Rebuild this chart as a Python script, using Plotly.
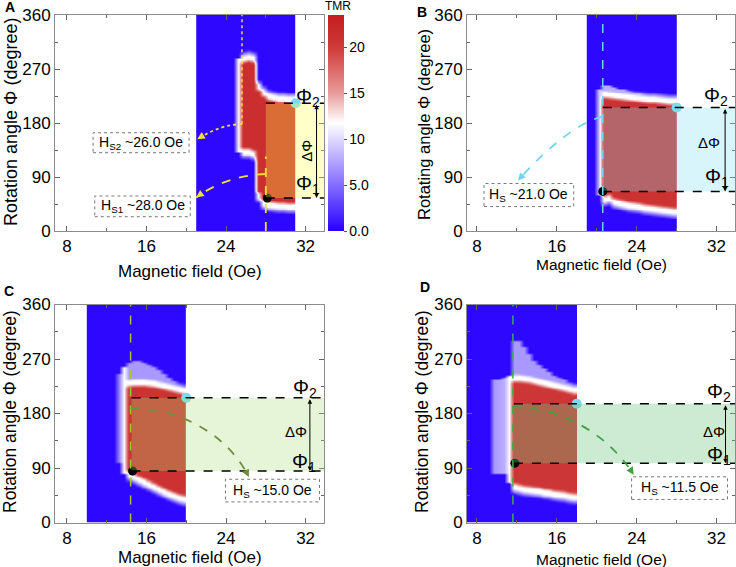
import plotly.graph_objects as go

# ---------------- data ----------------
ANGLE_CENTERS = [1.5 + 3 * k for k in range(120)]  # row centres of the angle grid (deg)

# Panel A : field columns (Oe), red-region lower/upper edge (deg), extra halo edges + level
A_field = [21.25, 21.75, 22.25, 22.75, 23.25, 23.75, 24.25, 24.75, 25.25, 25.75,
           26.25, 26.75, 27.25, 27.75, 28.25, 28.75, 29.25, 29.75, 30.25, 30.75]
A_lo = [None] * 9 + [135, 135, 132, 62, 50, 47, 46, 45, 45, 44, 44]
A_hi = [None] * 9 + [285, 287, 285, 238, 228, 222, 220, 218, 218, 217, 217]
A_halo_lo = [None] * 8 + [132] + [None] * 11
A_halo_hi = [None] * 8 + [288] + [None] * 11
A_halo_val = [0] * 8 + [11.5] + [0] * 11
A_peak = 21.5

# Panel B
B_field = [19.25, 19.75, 20.25, 20.75, 21.25, 21.75, 22.25, 22.75, 23.25, 23.75,
           24.25, 24.75, 25.25, 25.75, 26.25, 26.75, 27.25, 27.75]
B_lo = [None, None, None, 56, 58, 52, 50, 48, 46, 45, 44, 42, 41, 40, 39, 38, 37, 36]
B_hi = [None, None, None, 226, 225, 224, 223, 222, 221, 220, 219, 218, 217, 217, 216, 215, 214, 214]
B_halo_lo = [None, None, 60, 50, 52, 47, 45, 43, 41, 40, 39, 37, 36, 35, 34, 33, 32, 31]
B_halo_hi = [None, None, 238, 243, 242, 240, 238, 236, 234, 232, 230, 228, 226, 225, 224, 222, 221, 220]
B_halo_val = [0, 0, 9] + [8] * 15
B_peak = 21.0

# Panel C
C_field = [10.25, 10.75, 11.25, 11.75, 12.25, 12.75, 13.25, 13.75, 14.25, 14.75,
           15.25, 15.75, 16.25, 16.75, 17.25, 17.75, 18.25, 18.75, 19.25, 19.75]
C_lo = [None] * 8 + [82, 78, 74, 70, 66, 62, 58, 54, 50, 47, 44, 42]
C_hi = [None] * 8 + [228, 229, 229, 229, 228, 227, 225, 223, 221, 219, 217, 215]
C_halo_lo = [None] * 6 + [100, 82, 76, 72, 68, 64, 60, 56, 52, 48, 44, 41, 38, 36]
C_halo_hi = [None] * 6 + [245, 258, 264, 266, 266, 265, 262, 258, 252, 246, 240, 234, 228, 224]
C_halo_val = [0] * 6 + [6, 11.5] + [7] * 12
C_peak = 21.0

# Panel D
D_field = [7.25, 7.75, 8.25, 8.75, 9.25, 9.75, 10.25, 10.75, 11.25, 11.75, 12.25,
           12.75, 13.25, 13.75, 14.25, 14.75, 15.25, 15.75, 16.25, 16.75, 17.25, 17.75]
D_lo = [None] * 9 + [62, 60, 58, 57, 56, 55, 53, 52, 50, 49, 48, 46, 45]
D_hi = [None] * 9 + [236, 236, 235, 234, 232, 230, 228, 226, 224, 222, 220, 218, 216]
D_halo_lo = [None] * 5 + [82, 82, 80, 66, 54, 52, 50, 49, 48, 47, 45, 44, 42, 41, 40, 38, 37]
D_halo_hi = [None] * 5 + [236, 238, 240, 244, 300, 300, 290, 278, 268, 260, 254, 248, 244, 240, 236, 232, 228]
D_halo_val = [0] * 5 + [7, 7.5, 8, 11.5] + [7] * 13
D_peak = 20.5

BASE = 0.3
WHITE = 11.75

# Switching angles and fields
PHI1 = [55, 66, 85, 98]
PHI2 = [213, 206, 206, 196]
RECT_X0 = [28.0, 20.6, 14.5, 11.7]
DOT1_X = [28.15, 20.6, 14.6, 11.8]
DOT2_X = [31.0, 28.0, 20.0, 18.0]
HS_LINE_X = [28.0, 20.6, 14.4, 11.6]
A_HS2_LINE_X = 25.6
HS_LABELS = [["H<sub>S2</sub> ~26.0 Oe", "H<sub>S1</sub> ~28.0 Oe"],
             ["H<sub>S</sub> ~21.0 Oe"], ["H<sub>S</sub> ~15.0 Oe"], ["H<sub>S</sub> ~11.5 Oe"]]
PANEL_LETTERS = ["A", "B", "C", "D"]
Y_TITLES = ["Rotation angle Φ (degree)", "Rotating angle Φ (degree)",
            "Rotation angle Φ (degree)", "Rotation angle Φ (degree)"]
X_TITLE = "Magnetic field (Oe)"
X_TICKS = [8, 16, 24, 32]
Y_TICKS = [0, 90, 180, 270, 360]
CB_TICKS = [0, 5, 10, 15, 20]
CB_TEXT = ["0.0", "5.0", "10", "15", "20"]

# ---------------- layout geometry ----------------
FONT = "Arial, 'Liberation Sans', sans-serif"
W, H = 736, 567
XR = [[6.8, 33.85], [7.0, 33.85], [6.8, 33.85], [7.0, 33.85]]
XDOM = [[55 / W, 324 / W], [467 / W, 735 / W], [55 / W, 324 / W], [467 / W, 735 / W]]
YDOM = [[1 - 231 / H, 1 - 15 / H], [1 - 231 / H, 1 - 15 / H],
        [1 - 522.5 / H, 1 - 304.5 / H], [1 - 522.5 / H, 1 - 304.5 / H]]

COLORSCALE = [[0, "#2800ff"], [0.5, "#ffffff"], [0.64, "#e89a9a"],
              [0.85, "#cf3a3a"], [1, "#c41e1e"]]

PLATEAU_W = 6.0   # white band (deg) just outside the red region
FADE_W = 10.0     # fade (deg) from white to blue beyond the band
CORE_W = 6.0      # fade (deg) from white to full red inside


def build_z(lo, hi, hlo, hhi, hval, peak):
    z = []
    for a in ANGLE_CENTERS:
        row = []
        for i in range(len(lo)):
            v = BASE
            if lo[i] is not None:
                d = min(a - lo[i], hi[i] - a)
                if d >= 0:
                    v = WHITE + (peak - WHITE) * min(1.0, d / CORE_W)
                elif d > -PLATEAU_W:
                    v = WHITE
                else:
                    v = max(BASE, WHITE * (1 + (d + PLATEAU_W) / FADE_W))
            if hlo[i] is not None and hlo[i] <= a <= hhi[i]:
                v = max(v, hval[i])
            row.append(v)
        z.append(row)
    return z


panels = [
    (A_field, build_z(A_lo, A_hi, A_halo_lo, A_halo_hi, A_halo_val, A_peak)),
    (B_field, build_z(B_lo, B_hi, B_halo_lo, B_halo_hi, B_halo_val, B_peak)),
    (C_field, build_z(C_lo, C_hi, C_halo_lo, C_halo_hi, C_halo_val, C_peak)),
    (D_field, build_z(D_lo, D_hi, D_halo_lo, D_halo_hi, D_halo_val, D_peak)),
]

fig = go.Figure()
axn = ["", "2", "3", "4"]

for k, (fx, z) in enumerate(panels):
    hm = dict(x=fx, y=ANGLE_CENTERS, z=z, zmin=0, zmax=23.5, colorscale=COLORSCALE,
              zsmooth="best", xaxis="x" + axn[k], yaxis="y" + axn[k],
              showscale=(k == 0), hoverinfo="skip")
    if k == 0:
        hm["colorbar"] = dict(x=328 / W, xanchor="left", y=YDOM[0][0], yanchor="bottom",
                              len=YDOM[0][1] - YDOM[0][0], lenmode="fraction",
                              thickness=16, outlinewidth=0, xpad=0, ypad=0,
                              ticks="outside", ticklen=3,
                              tickcolor="#555", tickvals=CB_TICKS, ticktext=CB_TEXT,
                              tickfont=dict(size=14, family=FONT, color="black"))
    fig.add_trace(go.Heatmap(**hm))

shapes = []
annotations = []

YELLOW = "#f0e030"
CYAN = "#72d4f0"
HS_VCOL = [YELLOW, CYAN, "#a8c832", "#3cb043"]
HS_CCOL = [YELLOW, CYAN, "#6e9040", "#40a040"]
RECT_FILL = ["rgba(255,255,72,0.3)", "rgba(122,222,238,0.3)",
             "rgba(172,222,122,0.3)", "rgba(112,198,126,0.35)"]

for k in range(4):
    xr, yr = "x" + axn[k], "y" + axn[k]
    xmax = XR[k][1]
    shapes.append(dict(type="rect", xref=xr, yref=yr, x0=RECT_X0[k], x1=xmax,
                       y0=PHI1[k], y1=PHI2[k], fillcolor=RECT_FILL[k], line=dict(width=0),
                       layer="above"))
    for ph in (PHI1[k], PHI2[k]):
        shapes.append(dict(type="line", xref=xr, yref=yr, x0=RECT_X0[k], x1=xmax,
                           y0=ph, y1=ph, line=dict(color="black", width=1.5, dash="dash")))

# vertical guide lines
shapes.append(dict(type="line", xref="x", yref="y", x0=A_HS2_LINE_X, x1=A_HS2_LINE_X,
                   y0=178, y1=360, line=dict(color=YELLOW, width=1.5, dash="dot")))
shapes.append(dict(type="line", xref="x", yref="y", x0=HS_LINE_X[0], x1=HS_LINE_X[0],
                   y0=0, y1=124, line=dict(color=YELLOW, width=1.8, dash="dash")))
for k in (1, 2, 3):
    xr, yr = "x" + axn[k], "y" + axn[k]
    shapes.append(dict(type="line", xref=xr, yref=yr, x0=HS_LINE_X[k], x1=HS_LINE_X[k],
                       y0=0, y1=360, line=dict(color=HS_VCOL[k], width=1.5, dash="dash")))

# curved arrows (path, colour, dash, tip, tail used for the arrow head direction)
curves = [
    ("x", "y", "M 25.6,178 Q 23.5,178 21.1,153", YELLOW, "dot", (21.1, 153), (21.5, 157)),
    ("x", "y", "M 28.0,95 Q 24,92 21.0,56", YELLOW, "dash", (21.0, 56), (21.45, 61.4)),
    ("x2", "y2", "M 20.6,191 Q 17,175 12.1,84", CYAN, "dash", (12.1, 84), (12.83, 97.6)),
    ("x3", "y3", "M 14.4,189 C 19,189 24,150 26.3,75", HS_CCOL[2], "dash", (26.3, 75), (26.02, 84)),
    ("x4", "y4", "M 11.6,191 C 15.5,190 20.5,160 23.7,79", HS_CCOL[3], "dash", (23.7, 79), (23.32, 88.7)),
]
for xr, yr, path, col, dash, tip, tail in curves:
    shapes.append(dict(type="path", xref=xr, yref=yr, path=path,
                       line=dict(color=col, width=1.8, dash=dash)))
    annotations.append(dict(x=tip[0], y=tip[1], ax=tail[0], ay=tail[1], xref=xr, yref=yr,
                            axref=xr, ayref=yr, text="", showarrow=True, arrowhead=2,
                            arrowsize=1, arrowwidth=1.5, arrowcolor=col))

# label boxes
boxes = [
    ("x", "y", 10.63, 20.28, 130.5, 163.8, HS_LABELS[0][0]),
    ("x", "y", 10.8, 20.4, 23.8, 58.3, HS_LABELS[0][1]),
    ("x2", "y2", 8.7, 17.69, 40.7, 79.2, HS_LABELS[1][0]),
    ("x3", "y3", 23.94, 33.4, 34.0, 71.4, HS_LABELS[2][0]),
    ("x4", "y4", 23.49, 33.1, 38.1, 75.5, HS_LABELS[3][0]),
]
for xr, yr, x0, x1, y0, y1, txt in boxes:
    shapes.append(dict(type="rect", xref=xr, yref=yr, x0=x0, x1=x1, y0=y0, y1=y1,
                       fillcolor="white", line=dict(color="#777", width=1, dash="dot")))
    annotations.append(dict(x=(x0 + x1) / 2, y=(y0 + y1) / 2, xref=xr, yref=yr, text=txt,
                            xanchor="center", yanchor="middle",
                            showarrow=False, font=dict(size=14, family=FONT, color="black")))

# phi labels and double arrows
PHI_LAB = [  # (phi2 x,y), (dphi x,y), (phi1 x,y), arrow x, dphi angle
    ((32.25, 222), (32.15, 134), (32.25, 78), 33.1, -90),
    ((31.97, 224), (31.2, 148), (32.0, 89), 32.86, 0),
    ((31.9, 221), (31.0, 150), (31.8, 99), 32.43, 0),
    ((32.2, 214), (31.7, 151), (32.2, 111), 32.9, 0),
]
for k, (p2, dp, p1, axx, ang) in enumerate(PHI_LAB):
    xr, yr = "x" + axn[k], "y" + axn[k]
    annotations.append(dict(x=p2[0], y=p2[1], xref=xr, yref=yr, text="Φ<sub>2</sub>",
                            xanchor="center", yanchor="middle",
                            showarrow=False, font=dict(size=20, family=FONT, color="black")))
    annotations.append(dict(x=p1[0], y=p1[1], xref=xr, yref=yr, text="Φ<sub>1</sub>",
                            xanchor="center", yanchor="middle",
                            showarrow=False, font=dict(size=20, family=FONT, color="black")))
    annotations.append(dict(x=dp[0], y=dp[1], xref=xr, yref=yr, text="ΔΦ", textangle=ang,
                            xanchor="center", yanchor="middle",
                            showarrow=False, font=dict(size=15, family=FONT, color="black")))
    annotations.append(dict(x=axx, y=PHI1[k], ax=axx, ay=PHI2[k], xref=xr, yref=yr,
                            axref=xr, ayref=yr, text="", showarrow=True, arrowhead=2,
                            arrowside="end+start", arrowsize=0.9, arrowwidth=1,
                            arrowcolor="black"))

# dots
for k in range(4):
    xr, yr = "x" + axn[k], "y" + axn[k]
    fig.add_trace(go.Scatter(x=[DOT1_X[k]], y=[PHI1[k]], mode="markers", xaxis=xr, yaxis=yr,
                             marker=dict(color="black", size=9), hoverinfo="skip"))
    fig.add_trace(go.Scatter(x=[DOT2_X[k]], y=[PHI2[k]], mode="markers", xaxis=xr, yaxis=yr,
                             marker=dict(color="#7fd8f2", size=10), hoverinfo="skip"))

# axis titles, panel letters, colour-bar title (paper coordinates given in pixels)
XT_POS = [(190, 271), (601, 264), (190, 557), (601, 559)]
XT_SIZE = [17, 15.5, 17, 15.5]
YT_POS = [(11, 122), (424, 125), (10, 412), (422, 412)]
YT_SIZE = [18, 16.5, 17.5, 17.5]
LET_POS = [(10, 7), (422, 12), (9, 291), (425, 287)]


def paper(px, py):
    return px / W, 1 - py / H


for k in range(4):
    x, y = paper(*XT_POS[k])
    annotations.append(dict(x=x, y=y, xref="paper", yref="paper", text=X_TITLE,
                            xanchor="center", yanchor="middle", showarrow=False,
                            font=dict(size=XT_SIZE[k], family=FONT, color="black")))
    x, y = paper(*YT_POS[k])
    annotations.append(dict(x=x, y=y, xref="paper", yref="paper", text=Y_TITLES[k],
                            textangle=-90, xanchor="center", yanchor="middle", showarrow=False,
                            font=dict(size=YT_SIZE[k], family=FONT, color="black")))
    x, y = paper(*LET_POS[k])
    annotations.append(dict(x=x, y=y, xref="paper", yref="paper",
                            text="<b>%s</b>" % PANEL_LETTERS[k], xanchor="center",
                            yanchor="middle", showarrow=False,
                            font=dict(size=14, family=FONT, color="black")))
x, y = paper(338, 6)
annotations.append(dict(x=x, y=y, xref="paper", yref="paper", text="TMR", xanchor="center",
                        yanchor="middle", showarrow=False,
                        font=dict(size=12, family=FONT, color="black")))

axis_common = dict(showline=True, linecolor="#8c8c8c", linewidth=1, mirror="allticks",
                   ticks="inside", ticklen=5, tickcolor="#666", tickwidth=1,
                   showgrid=False, zeroline=False, automargin=False,
                   tickfont=dict(size=17, family=FONT, color="black"))

layout_axes = {}
for k in range(4):
    layout_axes["xaxis" + axn[k]] = dict(axis_common, domain=XDOM[k], range=XR[k],
                                         anchor="y" + axn[k], tickvals=X_TICKS,
                                         minor=dict(ticks="inside", ticklen=3, tickcolor="#666",
                                                    tickvals=[12, 20, 28]))
    layout_axes["yaxis" + axn[k]] = dict(axis_common, domain=YDOM[k], range=[0, 360],
                                         anchor="x" + axn[k], tickvals=Y_TICKS,
                                         minor=dict(ticks="inside", ticklen=3, tickcolor="#666",
                                                    tickvals=[45, 135, 225, 315]))

fig.update_layout(template="none", width=W, height=H,
                  margin=dict(l=0, r=0, t=0, b=0, autoexpand=False),
                  plot_bgcolor="white", paper_bgcolor="white", showlegend=False,
                  font=dict(family=FONT, size=16, color="black"),
                  shapes=shapes, annotations=annotations, **layout_axes)

fig.write_html("out.html", config={"displayModeBar": False},
               post_script="document.body.style.margin='0px';")
